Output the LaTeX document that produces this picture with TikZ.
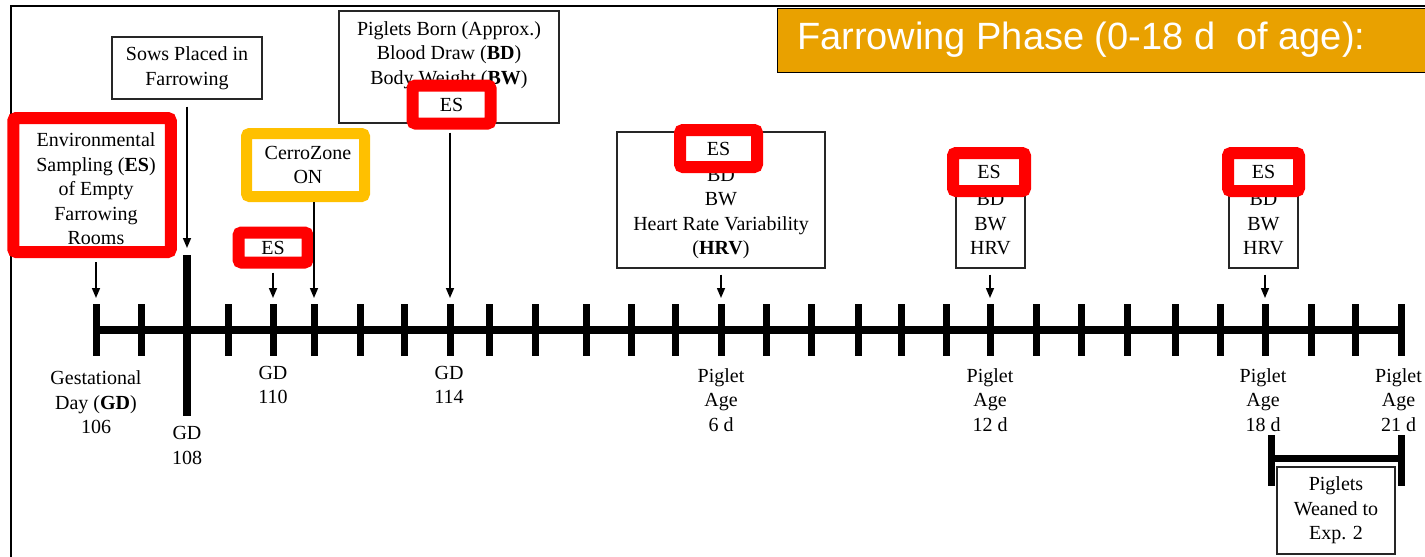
\documentclass[tikz,border=0pt]{standalone}
\usepackage{fontspec}
\setmainfont{Liberation Serif}
\newfontfamily\phasefont{Liberation Sans}
\usetikzlibrary{arrows.meta}
\definecolor{esred}{RGB}{255,0,0}
\definecolor{cerroc}{RGB}{255,192,0}
\definecolor{phasec}{RGB}{233,161,0}
\newcommand\tlfont{\fontsize{20}{24.5}\selectfont}
\tikzset{
  box/.style={draw=black!85, line width=1.4pt, fill=white, align=center, inner sep=0pt, font=\tlfont},
  esbox/.style={draw=esred, line width=12pt, rounded corners=3pt, fill=white, align=center, inner sep=0pt, font=\tlfont},
  cerrobox/.style={draw=cerroc, line width=11pt, rounded corners=3pt, fill=white, inner sep=0pt},
  lbl/.style={align=center, inner sep=0pt, font=\tlfont},
  arr/.style={line width=1.5pt, -{Triangle[length=10pt,width=8pt]}},
  axisline/.style={line width=8pt},
  daytick/.style={line width=7pt},
  bigtick/.style={line width=8pt},
}
\begin{document}
\begin{tikzpicture}[x=1pt,y=-1pt]
\useasboundingbox (0,0) rectangle (1425,557);
\clip (0,0) rectangle (1425,557);
\fill[white] (0,0) rectangle (1425,557);
% frame
\draw[line width=1.5pt] (11,570) -- (11,6) -- (1440,6);
% title
\node[fill=phasec, draw=black, line width=1.2pt, minimum width=680pt, minimum height=64pt, anchor=north west, inner sep=0pt] (title) at (777,8) {};
\node[anchor=west, text=white, inner sep=0pt, font=\phasefont\fontsize{38}{40}\selectfont] (titlet) at (797,40) {Farrowing Phase (0-18 d\ \ of age):};
% timeline coordinates
\foreach \x [count=\i from 0] in {96,141,187,228,273,314,360,404,450,489,535,586,631,675,721,766,811,858,901,946,990,1036,1081,1127,1175,1220,1265,1311,1355,1401}{
  \coordinate (t\i) at (\x,330);
  \coordinate (a\i) at (\x,298);
}
\draw[axisline] (t0) -- (t29);
\foreach \i in {0,1,3,4,5,6,7,8,9,10,11,12,13,14,15,16,17,18,19,20,21,22,23,24,25,26,27,28,29}{
  \draw[daytick] ([yshift=26pt]t\i) -- ([yshift=-26pt]t\i);
}
\coordinate (bigtop) at (187,248);
\draw[bigtick] ([yshift=75pt]t2) -- ([yshift=-86pt]t2);
% boxes
\node[box, minimum width=150pt, minimum height=62pt] (sows) at (187,68) {Sows Placed in\\Farrowing};
\node[esbox, minimum width=157.5pt, minimum height=134pt] (env) at (92,185) {};
\node[lbl] (envt) at (96,189) {Environmental\\Sampling (\textbf{ES})\\of Empty\\Farrowing\\Rooms};
\node[cerrobox, minimum width=118pt, minimum height=63pt] (cerro) at (305.5,165) {};
\node[lbl] (cerrot) at (308,165) {CerroZone\\ON};
\node[esbox, minimum width=69pt, minimum height=30pt] (es110) at (273,247.5) {ES};
\node[box, minimum width=220pt, minimum height=112pt] (born) at (449,67) {};
\node[lbl] (bornt) at (449,55) {Piglets Born (Approx.)\\Blood Draw (\textbf{BD})\\Body Weight (\textbf{BW})};
\node[esbox, minimum width=78pt, minimum height=38pt] (es114) at (451.5,104.5) {ES};
\node[box, minimum width=208pt, minimum height=136pt] (b6) at (721,200) {};
\node[lbl] (b6t) at (721,213.5) {BD\\BW\\Heart Rate Variability\\(\textbf{HRV})};
\node[esbox, minimum width=77pt, minimum height=37pt] (es6) at (718.5,148.5) {ES};
\node[box, minimum width=69pt, minimum height=108pt] (b12) at (990.5,214) {};
\node[lbl] (b12t) at (990.5,224) {BD\\BW\\HRV};
\node[esbox, minimum width=72pt, minimum height=38pt] (es12) at (989,172) {ES};
\node[box, minimum width=69pt, minimum height=108pt] (b18) at (1263.5,214) {};
\node[lbl] (b18t) at (1263.5,224) {BD\\BW\\HRV};
\node[esbox, minimum width=71pt, minimum height=38pt] (es18) at (1263.5,172) {ES};
% arrows
\draw[arr, shorten <=4pt] (env.south -| a0) -- (a0);
\draw[arr, shorten <=7pt] (sows.south) -- (bigtop);
\draw[arr, shorten <=4pt] (es110.south -| a4) -- (a4);
\draw[arr] (cerro.south -| a5) -- (a5);
\draw[arr, shorten <=3pt] (es114.south -| a8) -- (a8);
\draw[arr, shorten <=6pt] (b6.south -| a14) -- (a14);
\draw[arr, shorten <=6pt] (b12.south -| a20) -- (a20);
\draw[arr, shorten <=6pt] (b18.south -| a26) -- (a26);
% labels
\node[lbl] (gd106) at (96,402.5) {Gestational\\Day (\textbf{GD})\\106};
\node[lbl] (gd108) at (187,445.5) {GD\\108};
\node[lbl] (gd110) at (273,385) {GD\\110};
\node[lbl] (gd114) at (449,385) {GD\\114};
\node[lbl] (p6) at (721,400) {Piglet\\Age\\6 d};
\node[lbl] (p12) at (990,400) {Piglet\\Age\\12 d};
\node[lbl] (p18) at (1263,400) {Piglet\\Age\\18 d};
\node[lbl] (p21) at (1398.5,400) {Piglet\\Age\\21 d};
% weaning bracket
\coordinate (w18) at (1271,458);
\coordinate (w21) at (1401,458);
\draw[daytick] ([yshift=23pt]w18) -- ([yshift=-28pt]w18);
\draw[daytick] ([yshift=23pt]w21) -- ([yshift=-28pt]w21);
\draw[daytick] (w18) -- (w21);
\node[box, minimum width=118pt, minimum height=87pt] (weaned) at (1336,510.5) {Piglets\\Weaned to\\Exp. 2};
\end{tikzpicture}
\end{document}
